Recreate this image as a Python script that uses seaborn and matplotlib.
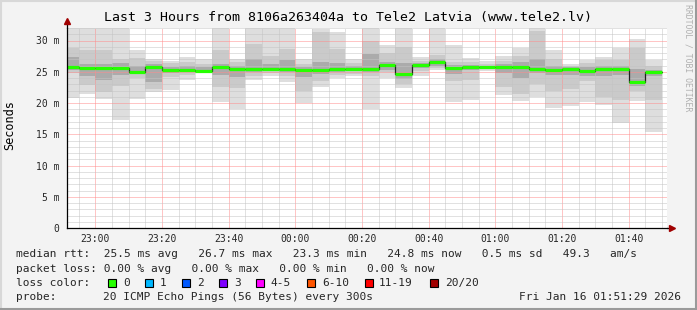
import matplotlib
matplotlib.use("Agg")
import matplotlib.pyplot as plt
import seaborn as sns
import numpy as np
import pandas as pd
from matplotlib.patches import Rectangle
from matplotlib.lines import Line2D
from matplotlib.ticker import MultipleLocator, FixedLocator

# ---------------- data ----------------
bar_end_times = ["22:55", "23:00", "23:05", "23:10", "23:15", "23:20", "23:25", "23:30",
                 "23:35", "23:40", "23:45", "23:50", "23:55", "00:00", "00:05", "00:10",
                 "00:15", "00:20", "00:25", "00:30", "00:35", "00:40", "00:45", "00:50",
                 "00:55", "01:00", "01:05", "01:10", "01:15", "01:20", "01:25", "01:30",
                 "01:35", "01:40", "01:45", "01:50"]

# round-trip times in ms (smoke percentiles + median)
ping_max = [32, 32, 32, 32, 28.5, 27.1, 26.8, 27.4, 27.0, 32, 27.0, 32, 32, 32, 27.1, 31.8, 31.4, 27.0,
            32, 29.3, 32, 27.4, 32, 29.3, 27.2, 26.7, 27.5, 28.8, 32, 28.5, 26.2, 26.9, 27.4, 28.8, 30.2, 26.9]
ping_p90 = [28.8, 28.5, 28.5, 27.0, 27.2, 26.7, 26.4, 26.5, 26.3, 28.5, 26.5, 29.5, 27.5, 28.6, 26.3, 31.3, 28.6, 26.4,
            30.0, 28.0, 29.0, 26.8, 27.7, 26.6, 26.5, 26.3, 26.8, 27.5, 31.5, 27.0, 25.9, 26.4, 26.8, 26.8, 28.8, 26.0]
ping_p75 = [27.3, 26.2, 26.2, 26.4, 26.0, 26.3, 25.8, 25.9, 25.7, 26.3, 25.9, 27.1, 26.2, 26.8, 25.8, 26.5, 26.4, 26.0,
            27.9, 26.5, 26.4, 26.4, 27.0, 26.1, 26.1, 26.0, 26.2, 26.5, 27.0, 26.0, 25.7, 25.8, 26.0, 25.9, 25.4, 25.3]
median = [25.8, 25.6, 25.6, 25.6, 25.0, 25.8, 25.35, 25.35, 25.05, 25.75, 25.4, 25.45, 25.45, 25.45, 25.3, 25.25, 25.45, 25.5,
          25.4, 26.1, 24.65, 26.1, 26.55, 25.65, 25.8, 25.7, 25.8, 25.8, 25.45, 25.25, 25.45, 25.1, 25.4, 25.45, 23.35, 24.9]
ping_p25 = [25.3, 24.4, 23.7, 24.5, 24.6, 23.4, 24.8, 25.0, 24.95, 24.5, 24.2, 25.0, 25.1, 24.9, 24.2, 24.6, 25.0, 25.1,
            24.9, 25.3, 23.9, 25.6, 26.0, 24.6, 25.3, 25.5, 24.8, 24.0, 24.8, 24.5, 24.5, 24.4, 24.3, 24.5, 22.7, 24.3]
ping_p10 = [24.8, 22.9, 21.8, 22.7, 24.0, 22.3, 24.2, 24.5, 24.9, 22.6, 22.4, 24.3, 24.8, 24.3, 22.0, 23.5, 24.5, 24.7,
            24.3, 24.9, 23.0, 25.1, 25.6, 23.6, 23.7, 25.4, 22.6, 21.5, 23.0, 22.0, 22.3, 23.5, 21.0, 20.5, 22.0, 20.5]
ping_min = [20.8, 21.5, 20.6, 17.3, 20.7, 21.7, 22.1, 23.7, 24.85, 20.2, 19.1, 23.7, 24.3, 23.3, 20.0, 22.6, 24.0, 24.4,
            19.0, 24.0, 22.4, 24.4, 25.3, 20.1, 20.5, 25.2, 21.3, 20.3, 20.9, 19.15, 19.5, 20.2, 19.7, 16.8, 20.3, 15.4]

x_tick_labels = ["23:00", "23:20", "23:40", "00:00", "00:20", "00:40", "01:00", "01:20", "01:40"]
y_tick_values = [0, 5, 10, 15, 20, 25, 30]
y_tick_labels = ["0", "5 m", "10 m", "15 m", "20 m", "25 m", "30 m"]

window_start = "22:51:29"
window_end = "01:51:29"

title = "Last 3 Hours from 8106a263404a to Tele2 Latvia (www.tele2.lv)"
legend_median = "median rtt:  25.5 ms avg   26.7 ms max   23.3 ms min   24.8 ms now   0.5 ms sd   49.3   am/s"
legend_loss = "packet loss: 0.00 % avg   0.00 % max   0.00 % min   0.00 % now"
loss_labels = ["0", "1", "2", "3", "4-5", "6-10", "11-19", "20/20"]
loss_colors = ["#26ff00", "#00b8ff", "#0059ff", "#7e00ff", "#ff00ff", "#ff5500", "#ff0000", "#a10000"]
probe_text = "20 ICMP Echo Pings (56 Bytes) every 300s"
date_text = "Fri Jan 16 01:51:29 2026"


def to_min(s):
    parts = [int(p) for p in s.split(":")]
    h, m = parts[0], parts[1]
    sec = parts[2] if len(parts) > 2 else 0
    v = (h - 22) * 60 + m + sec / 60.0
    if h < 22:
        v += 24 * 60
    return v


df = pd.DataFrame({
    "end": [to_min(t) for t in bar_end_times],
    "pmax": ping_max, "p90": ping_p90, "p75": ping_p75, "median": median,
    "p25": ping_p25, "p10": ping_p10, "pmin": ping_min,
})
df["start"] = df["end"] - 5

# ---------------- style ----------------
sns.set_style("white")
mono = ["DejaVu Sans Mono"]
plt.rcParams["font.family"] = mono

W, H = 697, 310
fig = plt.figure(figsize=(W / 100, H / 100), dpi=100, facecolor="#f3f3f3")


def fx(x):
    return x / W


def fy(y):
    return 1 - y / H


ax = fig.add_axes([fx(67), fy(228), 600 / W, 200 / H])
ax.set_facecolor("white")

# smoke
ax.bar(df["start"], df["pmax"] - df["pmin"], bottom=df["pmin"], width=5, align="edge",
       color="#dedede", linewidth=0, zorder=1)
ax.bar(df["start"], df["p90"] - df["p10"], bottom=df["p10"], width=5, align="edge",
       color="#cacaca", linewidth=0, zorder=1.1)
ax.bar(df["start"], df["p75"] - df["p25"], bottom=df["p25"], width=5, align="edge",
       color="#ababab", linewidth=0, zorder=1.2)

# median: dark step line then green segments
step = pd.DataFrame({"x": list(df["start"]) + [df["end"].iloc[-1]],
                     "y": list(df["median"]) + [df["median"].iloc[-1]]})
sns.lineplot(data=step, x="x", y="y", ax=ax, drawstyle="steps-post", color="#202020",
             linewidth=0.9, zorder=3, estimator=None, sort=False)
ax.hlines(df["median"], df["start"], df["end"], colors="#26ff00", linewidth=2.3, zorder=4)

ax.set_xlim(to_min(window_start), to_min(window_end))
ax.set_ylim(0, 32)
ax.set_xlabel("")
ax.set_ylabel("")

# ticks and grid
ax.xaxis.set_major_locator(FixedLocator([to_min(t) for t in x_tick_labels]))
ax.set_xticklabels(x_tick_labels)
ax.xaxis.set_minor_locator(MultipleLocator(5))
ax.yaxis.set_major_locator(FixedLocator(y_tick_values))
ax.set_yticklabels(y_tick_labels)
ax.yaxis.set_minor_locator(MultipleLocator(1))
ax.tick_params(axis="both", which="major", labelsize=7, length=3, width=0.7, color="#000000",
               direction="out", pad=2.5)
ax.tick_params(axis="both", which="minor", length=1.5, width=0.7, color="#000000", direction="out")
ax.tick_params(axis="x", which="major", pad=1.5)
ax.set_axisbelow(False)
ax.grid(which="minor", color="#c4c4c4", linestyle=(0, (1, 1)), linewidth=0.72)
ax.grid(which="major", color="#ff8c8c", linestyle=(0, (1, 1)), linewidth=0.72)
for s in ["top", "right"]:
    ax.spines[s].set_visible(False)
for s in ["left", "bottom"]:
    ax.spines[s].set_color("#000000")
    ax.spines[s].set_linewidth(0.9)
    ax.spines[s].set_zorder(5)

# axis extensions and arrows
ax.plot([0, 0], [1.0, 1.035], transform=ax.transAxes, color="#000000", lw=0.9, clip_on=False, zorder=5)
ax.plot([1.0, 1.008], [0, 0], transform=ax.transAxes, color="#000000", lw=0.9, clip_on=False, zorder=5)
ax.plot([0], [1.035], transform=ax.transAxes, marker="^", color="#a00000", markersize=4.5,
        clip_on=False, zorder=6)
ax.plot([1.008], [0], transform=ax.transAxes, marker=">", color="#a00000", markersize=4.5,
        clip_on=False, zorder=6)

# texts
fig.text(0.5, fy(18), title, ha="center", va="center", fontsize=9.5, color="#000000")
fig.text(fx(10), fy(125), "Seconds", rotation=90, ha="center", va="center", fontsize=8.6,
         color="#000000")
fig.text(fx(688), fy(4), "RRDTOOL / TOBI OETIKER", rotation=270, ha="center", va="top",
         fontsize=5.9, color="#b0b0b0")

LX = 16
fig.text(fx(LX), fy(254), legend_median, ha="left", va="center", fontsize=8)
fig.text(fx(LX), fy(268.5), legend_loss, ha="left", va="center", fontsize=8)
fig.text(fx(LX), fy(283), "loss color:", ha="left", va="center", fontsize=8)
box_x = [108, 145, 182, 219, 256, 307, 364.5, 430]
label_x = [123, 160, 197, 234, 270, 322, 379, 445]
for bx, lx, lab, col in zip(box_x, label_x, loss_labels, loss_colors):
    fig.patches.append(Rectangle((fx(bx), fy(287)), 8 / W, 8 / H, transform=fig.transFigure,
                                 facecolor=col, edgecolor="#000000", linewidth=0.8))
    fig.text(fx(lx), fy(283), lab, ha="left", va="center", fontsize=8)
fig.text(fx(LX), fy(297), "probe:", ha="left", va="center", fontsize=8)
fig.text(fx(LX + 13 * 6.69), fy(297), probe_text, ha="left", va="center", fontsize=8)
fig.text(fx(681), fy(297), date_text, ha="right", va="center", fontsize=8)

# frame
fig.lines.append(Line2D([0, 1], [fy(1), fy(1)], transform=fig.transFigure, color="#d8d8d8", lw=1.5))
fig.lines.append(Line2D([fx(1), fx(1)], [0, 1], transform=fig.transFigure, color="#d8d8d8", lw=1.5))
fig.lines.append(Line2D([0, 1], [fy(309), fy(309)], transform=fig.transFigure, color="#9a9a9a", lw=1.5))
fig.lines.append(Line2D([fx(696), fx(696)], [0, 1], transform=fig.transFigure, color="#9a9a9a", lw=1.5))

fig.savefig("out.png", dpi=100, facecolor=fig.get_facecolor())
